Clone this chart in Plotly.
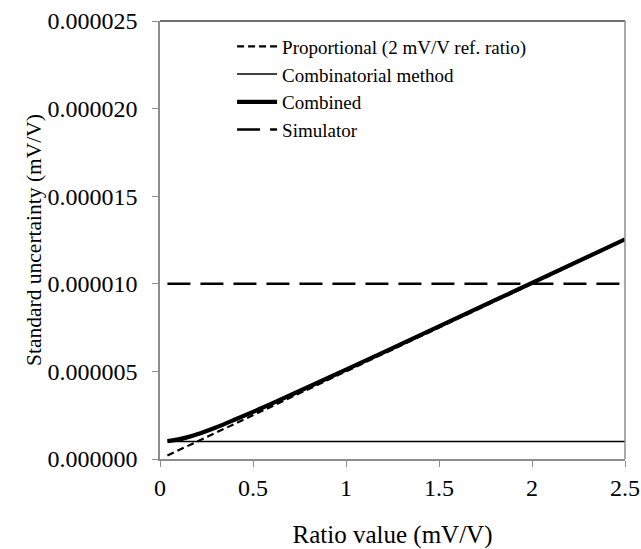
import plotly.graph_objects as go

# Ratio values (mV/V)
ratio = [0.04, 0.1, 0.15, 0.2, 0.25, 0.3, 0.4, 0.5, 0.6, 0.75, 1.0, 1.25, 1.5, 2.0, 2.5]

# Standard uncertainty components (mV/V)
proportional = [0.0000002, 0.0000005, 0.00000075, 0.000001, 0.00000125, 0.0000015,
                0.000002, 0.0000025, 0.000003, 0.00000375, 0.000005, 0.00000625,
                0.0000075, 0.00001, 0.0000125]
combinatorial = [0.000001] * len(ratio)
combined = [0.00000102, 0.00000112, 0.00000125, 0.00000141, 0.0000016, 0.0000018,
            0.00000224, 0.00000269, 0.00000316, 0.00000388, 0.0000051, 0.00000633,
            0.00000757, 0.00001005, 0.00001254]
simulator = [0.00001] * len(ratio)

x_ticks = [0, 0.5, 1, 1.5, 2, 2.5]
x_tick_text = ["0", "0.5", "1", "1.5", "2", "2.5"]
y_ticks = [0, 0.000005, 0.00001, 0.000015, 0.00002, 0.000025]

FONT = "Liberation Serif"

fig = go.Figure()
fig.add_trace(go.Scatter(x=ratio, y=proportional, mode="lines",
                         name="Proportional (2 mV/V ref. ratio)",
                         line=dict(color="black", width=2.2, dash="7px,4px")))
fig.add_trace(go.Scatter(x=ratio, y=combinatorial, mode="lines",
                         name="Combinatorial method",
                         line=dict(color="black", width=1.5)))
fig.add_trace(go.Scatter(x=ratio, y=combined, mode="lines", name="Combined",
                         line=dict(color="black", width=4.2, shape="spline")))
fig.add_trace(go.Scatter(x=ratio, y=simulator, mode="lines", name="Simulator",
                         line=dict(color="black", width=2.6, dash="23px,10px")))

fig.update_layout(
    width=641, height=549,
    margin=dict(l=160, r=16, t=21, b=90),
    paper_bgcolor="white", plot_bgcolor="white",
    font=dict(family=FONT, color="black", size=20),
    showlegend=True,
    legend=dict(x=0.155, y=0.985, xanchor="left", yanchor="top",
                bgcolor="rgba(0,0,0,0)", font=dict(family=FONT, size=19),
                itemwidth=40, tracegroupgap=0),
    xaxis=dict(range=[0, 2.5], tickvals=x_ticks, ticktext=x_tick_text,
               automargin=False,
               showgrid=False, zeroline=False, showline=True,
               linecolor="#8c8c8c", linewidth=1.5,
               ticks="outside", ticklen=6, tickcolor="#8c8c8c",
               ticklabelstandoff=0,
               tickfont=dict(family=FONT, size=24),
               title=dict(text="Ratio value (mV/V)", standoff=40,
                          font=dict(family=FONT, size=25))),
    yaxis=dict(range=[0, 0.000025], tickvals=y_ticks, tickformat=".6f",
               automargin=False,
               showgrid=False, zeroline=False, showline=True,
               linecolor="#8c8c8c", linewidth=1.5,
               ticks="outside", ticklen=6, tickcolor="#8c8c8c",
               ticklabelstandoff=10,
               tickfont=dict(family=FONT, size=24),
               title=dict(text="Standard uncertainty (mV/V)", standoff=0,
                          font=dict(family=FONT, size=21.5))),
)

# Frame on the top and right sides of the plot area
fig.add_shape(type="line", xref="paper", yref="paper", x0=0, x1=1, y0=1, y1=1,
              line=dict(color="#404040", width=1.5))
fig.add_shape(type="line", xref="paper", yref="paper", x0=1, x1=1, y0=0, y1=1,
              line=dict(color="#8c8c8c", width=1.5))

fig.write_html("out.html")
